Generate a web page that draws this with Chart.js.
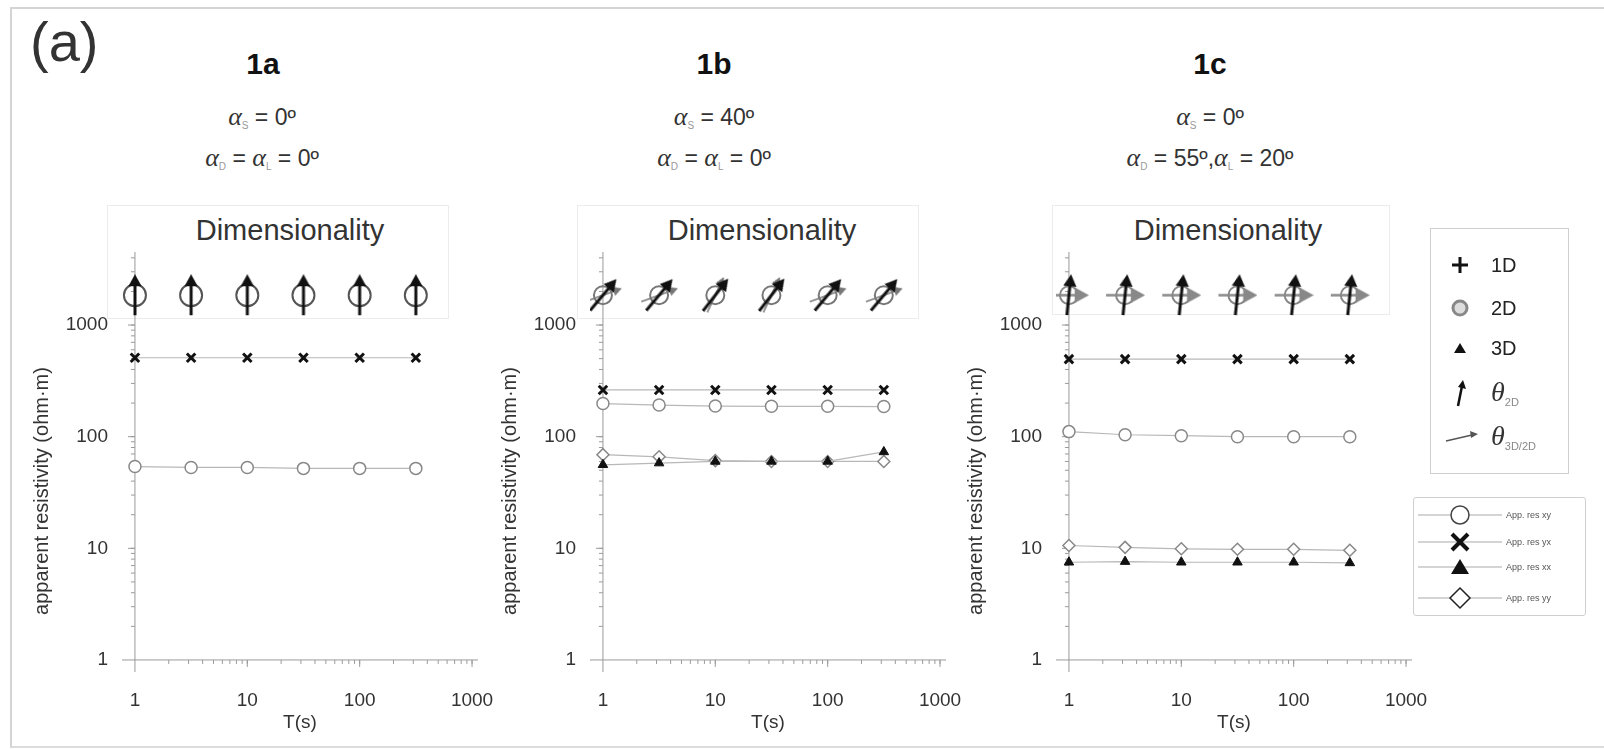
<!DOCTYPE html>
<html>
<head>
<meta charset="utf-8">
<script src="https://cdn.jsdelivr.net/npm/chart.js@4.4.1/dist/chart.umd.min.js"></script>
<style>
body { margin:0; background:#fff; font-family:"Liberation Sans", Arial, sans-serif; color:#222; }
#page { position:relative; width:1604px; height:749px; overflow:hidden; background:#fff; }
.frame { position:absolute; left:10px; top:7px; width:1640px; height:737px; border-top:2px solid #d4d4d4; border-left:2px solid #d4d4d4; border-bottom:2px solid #dcdcdc; }
.abs { position:absolute; white-space:nowrap; line-height:1; }
.c { transform:translateX(-50%); }
.panelLabel { left:30px; top:14px; font-size:56px; color:#333; }
.head { font-weight:bold; font-size:30px; color:#111; }
.sub { font-size:23px; color:#333; }
.sub i { font-family:"Liberation Serif", serif; font-size:26px; }
.sub sub { font-size:10px; color:#999; vertical-align:-4px; }
.dimbox { position:absolute; border:1px solid #ececec; }
.dimtxt { font-size:29px; color:#333; }
canvas { position:absolute; }
.leg1 { position:absolute; left:1430px; top:228px; width:137px; height:244px; border:1px solid #cfcfcf; }
.leg2 { position:absolute; left:1413px; top:497px; width:171px; height:117px; border:1px solid #cfcfcf; border-radius:3px; }
.ltxt { font-size:20px; color:#222; }
.th { font-family:"Liberation Serif", serif; font-style:italic; font-size:28px; color:#333; }
.th sub { font-family:"Liberation Sans", sans-serif; font-style:normal; font-size:11px; color:#888; vertical-align:-5px; }
.l2txt { font-size:9px; color:#555; }
</style>
</head>
<body>
<div id="page">
  <div class="frame"></div>
  <div class="abs panelLabel">(a)</div>

  <div class="abs c head" style="left:263px; top:49px;">1a</div>
  <div class="abs c sub" style="left:262px; top:104px;"><i>α</i><sub>S</sub> = 0º</div>
  <div class="abs c sub" style="left:262px; top:145px;"><i>α</i><sub>D</sub> = <i>α</i><sub>L</sub> = 0º</div>

  <div class="abs c head" style="left:714px; top:49px;">1b</div>
  <div class="abs c sub" style="left:714px; top:104px;"><i>α</i><sub>S</sub> = 40º</div>
  <div class="abs c sub" style="left:714px; top:145px;"><i>α</i><sub>D</sub> = <i>α</i><sub>L</sub> = 0º</div>

  <div class="abs c head" style="left:1210px; top:49px;">1c</div>
  <div class="abs c sub" style="left:1210px; top:104px;"><i>α</i><sub>S</sub> = 0º</div>
  <div class="abs c sub" style="left:1210px; top:145px;"><i>α</i><sub>D</sub> = 55º,<i>α</i><sub>L</sub> = 20º</div>

  <div class="dimbox" style="left:107px; top:205px; width:340px; height:112px;"></div>
  <div class="dimbox" style="left:577px; top:205px; width:340px; height:112px;"></div>
  <div class="dimbox" style="left:1052px; top:205px; width:336px; height:108px;"></div>
  <div class="abs c dimtxt" style="left:290px; top:216px;">Dimensionality</div>
  <div class="abs c dimtxt" style="left:762px; top:216px;">Dimensionality</div>
  <div class="abs c dimtxt" style="left:1228px; top:216px;">Dimensionality</div>

  <canvas id="c1a" width="503" height="518" style="left:20px; top:222px;"></canvas>
  <canvas id="c1b" width="503" height="518" style="left:488px; top:222px;"></canvas>
  <canvas id="c1c" width="503" height="518" style="left:954px; top:222px;"></canvas>

  <!-- dimensionality legend -->
  <div class="leg1"></div>
  <svg class="abs" style="left:1450px; top:255px;" width="20" height="20"><path d="M10 2 V18 M2 10 H18" stroke="#111" stroke-width="3"/></svg>
  <div class="abs ltxt" style="left:1491px; top:255px;">1D</div>
  <svg class="abs" style="left:1450px; top:298px;" width="20" height="20"><circle cx="10" cy="10" r="7" fill="#ddd" stroke="#888" stroke-width="3"/></svg>
  <div class="abs ltxt" style="left:1491px; top:298px;">2D</div>
  <svg class="abs" style="left:1450px; top:338px;" width="20" height="20"><path d="M10 5 L16 15 L4 15 Z" fill="#111"/></svg>
  <div class="abs ltxt" style="left:1491px; top:338px;">3D</div>
  <svg class="abs" style="left:1448px; top:378px;" width="24" height="30"><path d="M10 28 L14 8" stroke="#111" stroke-width="2.5"/><path d="M15 2 L18 11 L10 9 Z" fill="#111"/></svg>
  <div class="abs th" style="left:1491px; top:378px;">θ<sub>2D</sub></div>
  <svg class="abs" style="left:1444px; top:426px;" width="36" height="20"><path d="M2 15 L28 9" stroke="#555" stroke-width="1.5"/><path d="M34 8 L26 5 L27 12 Z" fill="#555"/></svg>
  <div class="abs th" style="left:1491px; top:422px;">θ<sub>3D/2D</sub></div>

  <!-- apparent resistivity legend -->
  <div class="leg2"></div>
  <svg class="abs" style="left:1418px; top:503px;" width="84" height="24"><path d="M0 12 H84" stroke="#aaa" stroke-width="1"/><circle cx="42" cy="12" r="9" fill="#fff" stroke="#444" stroke-width="1.5"/></svg>
  <div class="abs l2txt" style="left:1506px; top:511px;">App. res xy</div>
  <svg class="abs" style="left:1418px; top:530px;" width="84" height="24"><path d="M0 12 H84" stroke="#aaa" stroke-width="1"/><path d="M34 4 L50 20 M50 4 L34 20" stroke="#111" stroke-width="4"/></svg>
  <div class="abs l2txt" style="left:1506px; top:538px;">App. res yx</div>
  <svg class="abs" style="left:1418px; top:555px;" width="84" height="24"><path d="M0 12 H84" stroke="#aaa" stroke-width="1"/><path d="M42 4 L51 19 L33 19 Z" fill="#111"/></svg>
  <div class="abs l2txt" style="left:1506px; top:563px;">App. res xx</div>
  <svg class="abs" style="left:1418px; top:586px;" width="84" height="24"><path d="M0 12 H84" stroke="#aaa" stroke-width="1"/><path d="M42 2 L52 12 L42 22 L32 12 Z" fill="#fff" stroke="#222" stroke-width="1.5"/></svg>
  <div class="abs l2txt" style="left:1506px; top:594px;">App. res yy</div>
</div>

<script>
// periods (s) and axis ticks
const periods = [1, 3.16, 10, 31.6, 100, 316];
const xTicks = [1, 10, 100, 1000];
const yTicks = [1, 10, 100, 1000];
const yTitle = 'apparent resistivity (ohm·m)';
const xTitle = 'T(s)';

// apparent resistivity (ohm·m)
const xy1a = [54, 53, 53, 52, 52, 52];
const yx1a = [509, 509, 509, 509, 509, 509];

const xy1b = [198, 192, 188, 187, 187, 186];
const yx1b = [262, 262, 262, 262, 262, 262];
const xx1b = [56, 58, 60, 60, 60, 73];
const yy1b = [69, 66, 61, 60, 60, 60];

const xy1c = [111, 104, 102, 100, 100, 100];
const yx1c = [495, 495, 495, 495, 495, 495];
const xx1c = [7.5, 7.6, 7.5, 7.5, 7.5, 7.4];
const yy1c = [10.6, 10.2, 9.9, 9.8, 9.8, 9.6];

// dimensionality row (drawn at a fixed level above the curves) and strike angles (deg)
const dimLevel = 1850;
const theta2D1a = [0, 0, 0, 0, 0, 0];
const theta2D1b = [40, 40, 38, 38, 40, 40];
const theta3D1b = [70, 70, 25, 25, 70, 70];
const theta2D1c = [6, 6, 6, 6, 6, 6];
const theta3D1c = [90, 90, 90, 90, 90, 90];

function makeArrow(len, width, head, color) {
    const c = document.createElement('canvas');
    c.width = Math.ceil(head * 1.4) + 4;
    c.height = len;
    const g = c.getContext('2d');
    const cx = c.width / 2;
    g.strokeStyle = color;
    g.fillStyle = color;
    g.lineWidth = width;
    g.beginPath();
    g.moveTo(cx, len - 1);
    g.lineTo(cx, head);
    g.stroke();
    g.beginPath();
    g.moveTo(cx, 0);
    g.lineTo(cx - head * 0.6, head * 1.1);
    g.lineTo(cx + head * 0.6, head * 1.1);
    g.closePath();
    g.fill();
    return c;
}

const blackArrow = makeArrow(42, 3, 11, '#111');
const grayThin = makeArrow(40, 1.5, 8, '#777');
const grayThick = makeArrow(40, 2.5, 13, '#888');

const pts = (arr) => periods.map((p, i) => ({x: p, y: arr[i]}));
const dimPts = () => periods.map(p => ({x: p, y: dimLevel}));

function resSet(arr, kind, order) {
    const base = {data: pts(arr), showLine: true, borderColor: '#b8b8b8', borderWidth: 1.2, order: order};
    if (kind === 'xy') return Object.assign(base, {pointStyle: 'circle', pointRadius: 6, pointBorderColor: '#888', pointBackgroundColor: '#fff', pointBorderWidth: 1.5});
    if (kind === 'yx') return Object.assign(base, {pointStyle: 'crossRot', pointRadius: 6, pointBorderColor: '#111', pointBorderWidth: 3});
    if (kind === 'xx') return Object.assign(base, {pointStyle: 'triangle', pointRadius: 5.5, pointBorderColor: '#111', pointBackgroundColor: '#111', pointBorderWidth: 1});
    return Object.assign(base, {pointStyle: 'rectRot', pointRadius: 6, pointBorderColor: '#888', pointBackgroundColor: '#fff', pointBorderWidth: 1.5});
}

function circleSet(r, color, order) {
    return {data: dimPts(), showLine: false, pointStyle: 'circle', pointRadius: r, pointBorderColor: color, pointBackgroundColor: 'rgba(0,0,0,0)', pointBorderWidth: 2, order: order};
}

function arrowSet(img, angles, order) {
    return {data: dimPts(), showLine: false, pointStyle: img, pointRadius: 10, pointRotation: angles, order: order};
}

// axis lines through (1,1), log minor ticks and rotated y title
const axesPlugin = {
    id: 'axesAtOne',
    beforeDatasetsDraw(chart) {
        const {ctx, chartArea: a, scales: {x, y}} = chart;
        const x0 = x.getPixelForValue(1);
        const y0 = y.getPixelForValue(1);
        ctx.save();
        ctx.strokeStyle = '#9a9a9a';
        ctx.lineWidth = 1;
        ctx.beginPath();
        ctx.moveTo(a.left, y0); ctx.lineTo(a.right, y0);
        ctx.moveTo(x0, a.top); ctx.lineTo(x0, a.bottom);
        for (let d = 1; d <= 1000; d *= 10) {
            for (let k = 1; k <= 10; k++) {
                const v = d * k;
                if (v > x.min && v <= x.max && v !== 1) {
                    const px = x.getPixelForValue(v);
                    const len = k === 10 ? 7 : 4;
                    ctx.moveTo(px, y0); ctx.lineTo(px, y0 + len);
                }
                if (v > y.min && v <= y.max && v !== 1) {
                    const py = y.getPixelForValue(v);
                    const len = k === 10 ? 7 : 4;
                    ctx.moveTo(x0, py); ctx.lineTo(x0 - len, py);
                }
            }
        }
        ctx.stroke();
        ctx.translate(a.left - 80, (a.top + a.bottom) / 2 + 29);
        ctx.rotate(-Math.PI / 2);
        ctx.fillStyle = '#333';
        ctx.font = '20px "Liberation Sans", Arial, sans-serif';
        ctx.textAlign = 'center';
        ctx.textBaseline = 'middle';
        ctx.fillText(yTitle, 0, 0);
        ctx.restore();
    }
};

const tickFont = {family: '"Liberation Sans", Arial, sans-serif', size: 19};

function makeChart(id, datasets) {
    return new Chart(document.getElementById(id).getContext('2d'), {
        type: 'scatter',
        data: {datasets: datasets},
        options: {
            responsive: false,
            animation: false,
            events: [],
            layout: {padding: {left: 0, top: 30, right: 45, bottom: 6}},
            plugins: {legend: {display: false}, tooltip: {enabled: false}},
            scales: {
                x: {
                    type: 'logarithmic', bounds: 'data', min: 0.767, max: 1130,
                    grid: {display: false, drawTicks: false},
                    border: {display: false},
                    afterBuildTicks: (s) => { s.ticks = xTicks.map(v => ({value: v})); },
                    afterFit: (s) => { s.height = 62; },
                    ticks: {autoSkip: false, maxRotation: 0, padding: 17, color: '#333', font: tickFont, callback: (v) => String(v)},
                    title: {display: true, text: xTitle, color: '#333', font: tickFont, padding: 0}
                },
                y: {
                    type: 'logarithmic', bounds: 'data', min: 0.78, max: 4510,
                    grid: {display: false, drawTicks: false},
                    border: {display: false},
                    afterBuildTicks: (s) => { s.ticks = yTicks.map(v => ({value: v})); },
                    afterFit: (s) => { s.width = 102; },
                    ticks: {autoSkip: false, padding: 14, color: '#333', font: tickFont, callback: (v) => String(v)}
                }
            }
        },
        plugins: [axesPlugin]
    });
}

makeChart('c1a', [
    arrowSet(blackArrow, theta2D1a, 0),
    circleSet(11, '#555', 1),
    resSet(yx1a, 'yx', 2),
    resSet(xy1a, 'xy', 3)
]);

makeChart('c1b', [
    arrowSet(blackArrow, theta2D1b, 0),
    arrowSet(grayThin, theta3D1b, 1),
    circleSet(9, '#777', 2),
    resSet(yx1b, 'yx', 3),
    resSet(xy1b, 'xy', 4),
    resSet(xx1b, 'xx', 5),
    resSet(yy1b, 'yy', 6)
]);

makeChart('c1c', [
    arrowSet(blackArrow, theta2D1c, 0),
    arrowSet(grayThick, theta3D1c, 1),
    circleSet(9, '#888', 2),
    resSet(yx1c, 'yx', 3),
    resSet(xy1c, 'xy', 4),
    resSet(xx1c, 'xx', 5),
    resSet(yy1c, 'yy', 6)
]);
</script>
</body>
</html>
